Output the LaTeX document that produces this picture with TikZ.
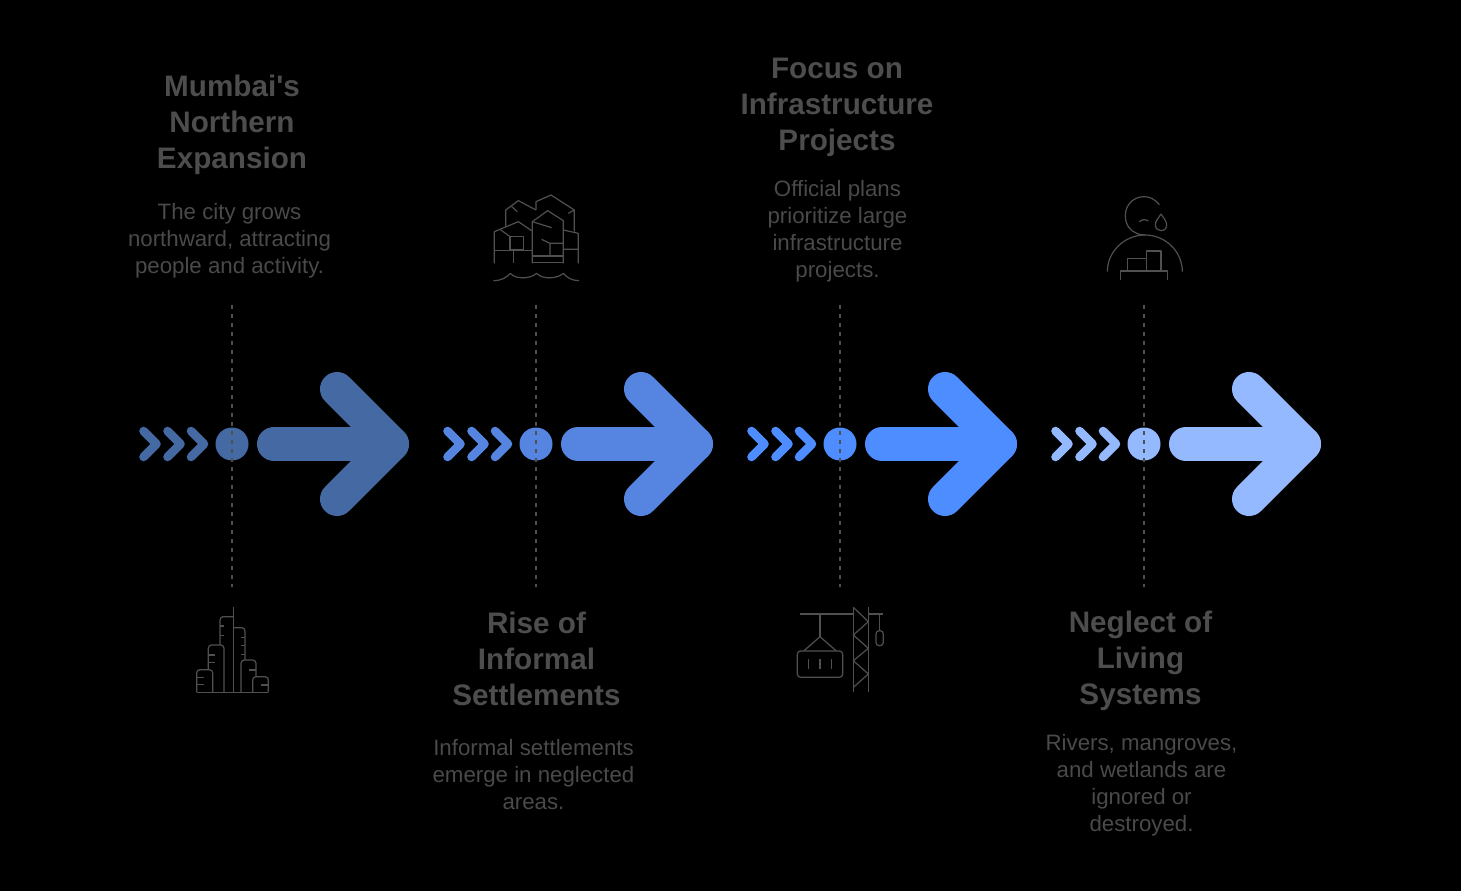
\documentclass[tikz,border=0pt]{standalone}
\usepackage{fontspec}
\setmainfont{Liberation Sans}
\newfontfamily\rawsans{Liberation Sans}
\definecolor{cA}{HTML}{4569A3}
\definecolor{cB}{HTML}{5585E0}
\definecolor{cC}{HTML}{4D8DFF}
\definecolor{cD}{HTML}{94B9FF}
\definecolor{ink}{HTML}{4D4D4D}
\definecolor{bodyink}{HTML}{4A4A4A}
\definecolor{iconink}{HTML}{505050}
\definecolor{leadink}{HTML}{505050}
\tikzset{
  titletext/.style={inner sep=0pt,align=center,text=ink,font=\fontsize{22.25}{27}\selectfont\rawsans\bfseries},
  bodytext/.style={inner sep=0pt,align=center,text=bodyink,font=\fontsize{16.7}{20.25}\selectfont},
  leader/.style={draw=leadink,line width=0.8pt,dash pattern=on 3pt off 3.75pt},
  dot/.style={circle,inner sep=0pt,minimum size=24.75pt},
  chev/.style={line width=6.4pt,line cap=round,line join=round},
  shaft/.style={line width=25.5pt,line cap=round},
  headstroke/.style={line width=25.5pt,line cap=round,line join=round},
  iconline/.style={draw=iconink,line width=0.9pt,line join=round,rounded corners=2.4pt},
  iconplain/.style={draw=iconink,line width=0.9pt,line join=round},
}
\newcommand{\stage}[2]{%
  \begin{scope}[xshift=#1*0.75pt]
    \coordinate (top#1) at (232,305);
    \coordinate (bot#1) at (232,587);
    \coordinate (tail#1) at (274,444);
    \coordinate (tip#1) at (392,444);
    \coordinate (headA#1) at (337,389);
    \coordinate (headB#1) at (337,499);
    \foreach \d in {0,24,47.5}{
      \draw[chev,#2] (143.5+\d,431) -- (156.5+\d,444) -- (143.5+\d,457);
    }
    \node[dot,fill=#2] (dot#1) at (232,444) {};
    \draw[shaft,#2] (tail#1) -- (tip#1);
    \draw[headstroke,#2] (headA#1) -- (tip#1) -- (headB#1);
    \draw[leader] (top#1) -- (bot#1);
  \end{scope}}
\begin{document}
\begin{tikzpicture}[x=0.75pt,y=-0.75pt]
\path[use as bounding box,fill=black] (0,0) rectangle (1461,891);
\stage{0}{cA}
\stage{304}{cB}
\stage{608}{cC}
\stage{912}{cD}

\node[titletext] (t1) at (232,125) {Mumbai's\\Northern\\Expansion};
\node[bodytext] (b1) at (229.5,241) {The city grows\\northward, attracting\\people and activity.};
\node[titletext] (t2) at (536.5,658.5) {Rise of\\Informal\\Settlements};
\node[bodytext] (b2) at (533.5,775) {Informal settlements\\emerge in neglected\\areas.};
\node[titletext] (t3) at (837,107) {Focus on\\Infrastructure\\Projects};
\node[bodytext] (b3) at (837.5,231) {Official plans\\prioritize large\\infrastructure\\projects.};
\node[titletext] (t4) at (1140.5,661) {Neglect of\\Living\\Systems};
\node[bodytext] (b4) at (1141.5,785.5) {Rivers, mangroves,\\and wetlands are\\ignored or\\destroyed.};

% city skyline
\begin{scope}[shift={(180,595)},x=0.25pt,y=-0.25pt]
\draw[iconplain] (50,292) -- (265,292);
\draw[iconplain] (160,37) -- (160,292);
\draw[iconline] (120,150) -- (120,65) -- (160,65);
\draw[iconline] (160,98) -- (195,98) -- (195,195);
\draw[iconline] (183,292) -- (183,195) -- (228,195) -- (228,245);
\draw[iconline] (218,292) -- (218,245) -- (265,245) -- (265,292);
\draw[iconline] (85,224) -- (85,150) -- (132,150) -- (132,292);
\draw[iconline] (50,292) -- (50,224) -- (98,224) -- (98,292);
\draw[iconplain] (120,93)--(132,93) (120,122)--(132,122) (85,180)--(105,180) (85,203)--(105,203)
  (50,247)--(72,247) (50,268)--(72,268) (183,128)--(195,128) (183,152)--(195,152) (183,178)--(195,178)
  (208,225)--(228,225) (243,270)--(265,270);
\end{scope}

% settlements
\begin{scope}[shift={(485,190)},x=0.25pt,y=-0.25pt]
\draw[iconplain] (62,110) -- (62,60) -- (100,32) -- (153,60);
\draw[iconplain] (153,60) -- (153,35) -- (198,15) -- (268,60) -- (268,125);
\draw[iconplain] (80,50) -- (97,65) (250,70) -- (268,60);
\draw[iconplain] (28,220) -- (28,125) -- (100,95) -- (140,122);
\draw[iconplain] (45,118) -- (75,140);
\draw[iconplain] (75,140) rectangle (115,180);
\draw[iconplain] (28,182) -- (142,182) (85,182) -- (85,220);
\draw[iconplain] (142,220) -- (142,95) -- (188,62) -- (235,92) -- (235,220);
\draw[iconplain] (142,95) -- (200,113);
\draw[iconplain] (142,198) -- (235,198) (142,218) -- (235,218);
\draw[iconplain] (170,148) -- (195,160) -- (235,160) (195,160) -- (195,198);
\draw[iconplain] (235,120) -- (280,130) -- (280,220) (235,178) -- (280,178);
\draw[iconplain] (25,272) .. controls (50,272) and (65,262) .. (76,250)
  .. controls (90,268) and (135,268) .. (155,250)
  .. controls (170,268) and (215,268) .. (235,250)
  .. controls (245,262) and (260,272) .. (282,272);
\end{scope}

% crane
\begin{scope}[shift={(790,600)},x=0.25pt,y=-0.25pt]
\draw[iconplain] (30,42) -- (190,42) (235,42) -- (278,42) (90,42) -- (90,110);
\draw[iconplain] (42,152) -- (90,110) -- (138,152);
\draw[iconline] (22,153) rectangle (158,232);
\draw[iconplain] (56,178)--(56,208) (90,178)--(90,208) (124,178)--(124,208);
\draw[iconplain] (190,22)--(190,275) (235,22)--(235,275);
\draw[iconplain] (190,22)--(235,65)--(190,105)--(235,145)--(190,182)--(235,222)--(190,262);
\draw[iconplain] (268,42)--(268,92);
\draw[iconline] (258,92) rectangle (280,137);
\end{scope}

% person
\begin{scope}[shift={(1095,190)},x=0.25pt,y=-0.25pt]
\draw[iconplain] (193,44) .. controls (180,28) and (165,20) .. (147,20)
  .. controls (115,20) and (91,45) .. (91,76)
  .. controls (91,105) and (105,122) .. (125,130)
  .. controls (132,134) and (140,135) .. (150,135);
\draw[iconplain] (37,245) .. controls (37,185) and (88,135) .. (150,135)
  .. controls (212,135) and (262,185) .. (262,245);
\draw[iconplain] (198,72) .. controls (190,85) and (181,93) .. (181,105)
  .. controls (181,115) and (189,122) .. (198,122)
  .. controls (208,122) and (215,115) .. (215,105)
  .. controls (215,93) and (206,85) .. (198,72);
\draw[iconplain] (133,95) .. controls (140,88) and (152,87) .. (160,93);
\draw[iconplain] (97,243)--(97,205)--(155,205)--(155,243);
\draw[iconplain] (155,205)--(155,183)--(198,183)--(198,243);
\draw[iconplain] (77,270)--(77,243)--(218,243)--(218,270);
\end{scope}
\end{tikzpicture}
\end{document}
